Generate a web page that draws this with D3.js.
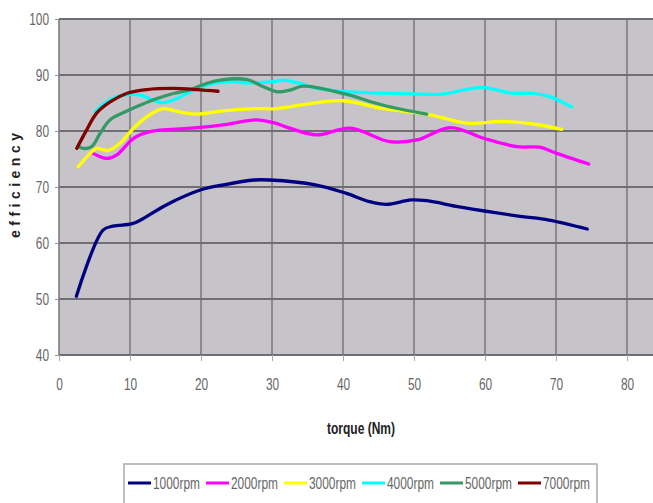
<!DOCTYPE html>
<html>
<head>
<meta charset="utf-8">
<script src="https://cdn.jsdelivr.net/npm/d3@7"></script>
<style>
  body { margin: 0; background: #fff; }
  svg { display: block; }
  .narrow { font-family: "Liberation Sans", Arial, sans-serif; }
</style>
</head>
<body>
<div id="chart"></div>
<script>
// series names + colours
const seriesNames = ['1000rpm', '2000rpm', '3000rpm', '4000rpm', '5000rpm', '7000rpm'];
const seriesColors = ['#000080', '#ff00ff', '#ffff00', '#00ffff', '#339966', '#800000'];

// torque (Nm) / efficiency pairs
const rpm1000 = [[2.45, 50.5], [6.2, 62.3], [7.6, 63.0], [10.2, 63.4], [11.5, 64.1], [15.1, 66.8], [20, 69.5], [23.2, 70.4],
  [27.5, 71.25], [29.7, 71.25], [36.1, 70.4], [40.4, 68.9], [43.7, 67.4], [46.1, 66.9], [49.6, 67.7], [51.8, 67.55],
  [56.6, 66.4], [64.7, 64.8], [69, 64.1], [74.4, 62.5]];
const rpm2000 = [[4.8, 76.0], [6.7, 75.1], [8.1, 75.7], [10.5, 78.7], [12.8, 79.9], [18.5, 80.5], [23.1, 81.1], [27.8, 82.0],
  [30.2, 81.5], [32.5, 80.5], [36.3, 79.3], [41, 80.5], [46.6, 78.1], [50.4, 78.4], [55.1, 80.6], [59.8, 78.7],
  [64.5, 77.2], [67.7, 77.1], [70.1, 76.0], [74.6, 74.1]];
const rpm3000 = [[2.7, 73.6], [4.4, 76.0], [5.3, 76.9], [6.9, 76.5], [8.6, 77.8], [10.5, 80.5], [12.8, 82.9], [14.7, 84.0],
  [17.0, 83.4], [19.4, 83.0], [23.1, 83.6], [27.8, 84.0], [30.7, 84.0], [35.4, 84.9], [40, 85.4], [45.7, 84.0],
  [52.3, 82.9], [57.4, 81.4], [62.6, 81.7], [66.8, 81.25], [70.8, 80.3]];
const rpm4000 = [[5.1, 83.4], [6.7, 85.2], [9.1, 86.4], [11.4, 86.4], [13.3, 85.5], [14.7, 85.05], [16.6, 85.8], [18.9, 87.3],
  [20.8, 88.2], [23.6, 88.8], [26.9, 88.6], [30.2, 88.8], [31.6, 89.1], [33.9, 88.5], [36.3, 87.6], [41, 87.0],
  [48, 86.7], [54.1, 86.6], [56.9, 87.3], [59.8, 87.8], [63.5, 86.8], [66.8, 86.7], [69.2, 86.1], [72.2, 84.3]];
const rpm5000 = [[2.7, 77.3], [3.4, 76.9], [4.6, 77.2], [5.8, 79.6], [7.2, 82.0], [9.1, 83.3], [11.4, 84.6], [13.8, 85.8],
  [16.1, 86.7], [18.5, 87.4], [20.8, 88.5], [22.7, 89.1], [26.4, 89.2], [28.8, 87.9], [30.7, 87.0], [32.5, 87.3],
  [34.4, 88.0], [40, 86.7], [45.7, 84.6], [51.8, 83.0]];
const rpm7000 = [[2.5, 76.9], [3.9, 80.2], [5.3, 83.2], [7.2, 85.2], [9.5, 86.7], [12.35, 87.4], [16.1, 87.6], [19.4, 87.4],
  [22.4, 87.1]];

const allSeries = [rpm1000, rpm2000, rpm3000, rpm4000, rpm5000, rpm7000];

const xTicks = [0, 10, 20, 30, 40, 50, 60, 70, 80];
const yTicks = [40, 50, 60, 70, 80, 90, 100];

const W = 653, H = 503;
const margin = { top: 19, left: 59, bottom: 148 };
const plotW = 639; // runs off the right edge like the original crop
const plotH = H - margin.top - margin.bottom;

const svg = d3.select('#chart').append('svg')
  .attr('width', W)
  .attr('height', H);

const x = d3.scaleLinear().domain([0, 90]).range([margin.left, margin.left + plotW]);
const y = d3.scaleLinear().domain([40, 100]).range([margin.top + plotH, margin.top]);

// squeeze text to look like the narrow Excel font
const squeeze = (sel, perChar) => sel
  .attr('textLength', function() { return this.textContent.length * perChar; })
  .attr('lengthAdjust', 'spacingAndGlyphs');

// plot background
svg.append('rect')
  .attr('x', x(0)).attr('y', y(100))
  .attr('width', plotW).attr('height', y(40) - y(100))
  .attr('fill', '#c6c4c8');

// grid
svg.append('g')
  .selectAll('line')
  .data(xTicks.concat([90]))
  .enter().append('line')
  .attr('x1', d => x(d)).attr('x2', d => x(d))
  .attr('y1', y(100)).attr('y2', y(40))
  .attr('stroke', '#7e7c80')
  .attr('stroke-width', 1.6);

svg.append('g')
  .selectAll('line')
  .data(yTicks)
  .enter().append('line')
  .attr('x1', x(0)).attr('x2', W)
  .attr('y1', d => y(d)).attr('y2', d => y(d))
  .attr('stroke', '#706e72')
  .attr('stroke-width', 2.2);

// axes
const yAxis = svg.append('g')
  .attr('class', 'narrow')
  .attr('transform', `translate(${x(0)},0)`)
  .call(d3.axisLeft(y).tickValues(yTicks).tickSize(4).tickPadding(6));
yAxis.select('.domain').remove();
yAxis.selectAll('line').attr('stroke', '#999');
yAxis.selectAll('text').style('font-size', '16px').style('fill', '#666').call(squeeze, 6.6);

const xAxis = svg.append('g')
  .attr('class', 'narrow')
  .attr('transform', `translate(0,${y(40)})`)
  .call(d3.axisBottom(x).tickValues(xTicks).tickSize(6).tickPadding(18));
xAxis.select('.domain').remove();
xAxis.selectAll('line').attr('stroke', '#aaa');
xAxis.selectAll('text').style('font-size', '16px').style('fill', '#666')
  .attr('text-anchor', 'start')
  .attr('x', function() { return -this.textContent.length * 3.3; })
  .call(squeeze, 6.6);

// series lines
const line = d3.line()
  .x(d => x(d[0]))
  .y(d => y(d[1]))
  .curve(d3.curveCatmullRom.alpha(0.5));

svg.append('g')
  .selectAll('path')
  .data(allSeries)
  .enter().append('path')
  .attr('d', line)
  .attr('fill', 'none')
  .attr('stroke', (d, i) => seriesColors[i])
  .attr('stroke-width', 3.3)
  .attr('stroke-linejoin', 'round')
  .attr('stroke-linecap', 'round');

// axis titles
svg.append('text')
  .attr('class', 'narrow')
  .attr('x', 327).attr('y', 434)
  .attr('textLength', 68)
  .attr('lengthAdjust', 'spacingAndGlyphs')
  .style('font-size', '16px')
  .style('font-weight', 'bold')
  .style('fill', '#222')
  .text('torque (Nm)');

svg.append('text')
  .attr('class', 'narrow')
  .attr('transform', 'translate(20,238) rotate(-90)')
  .attr('textLength', 105)
  .attr('lengthAdjust', 'spacing')
  .style('font-size', '14px')
  .style('font-weight', 'bold')
  .style('fill', '#222')
  .text('efficiency');

// legend
const legend = svg.append('g').attr('transform', 'translate(124,464)');
legend.append('rect')
  .attr('width', 473).attr('height', 45)
  .attr('fill', '#fff')
  .attr('stroke', '#aaa')
  .attr('stroke-width', 1.5);

const items = legend.selectAll('.item')
  .data(seriesNames)
  .enter().append('g')
  .attr('class', 'item')
  .attr('transform', (d, i) => `translate(${4 + i * 78},19)`);

items.append('line')
  .attr('x1', 0).attr('x2', 23)
  .attr('stroke', (d, i) => seriesColors[i])
  .attr('stroke-width', 3);

items.append('text')
  .attr('class', 'narrow')
  .attr('x', 25).attr('dy', '0.36em')
  .style('font-size', '16px')
  .style('fill', '#666')
  .text(d => d)
  .call(squeeze, 6.7);
</script>
</body>
</html>
